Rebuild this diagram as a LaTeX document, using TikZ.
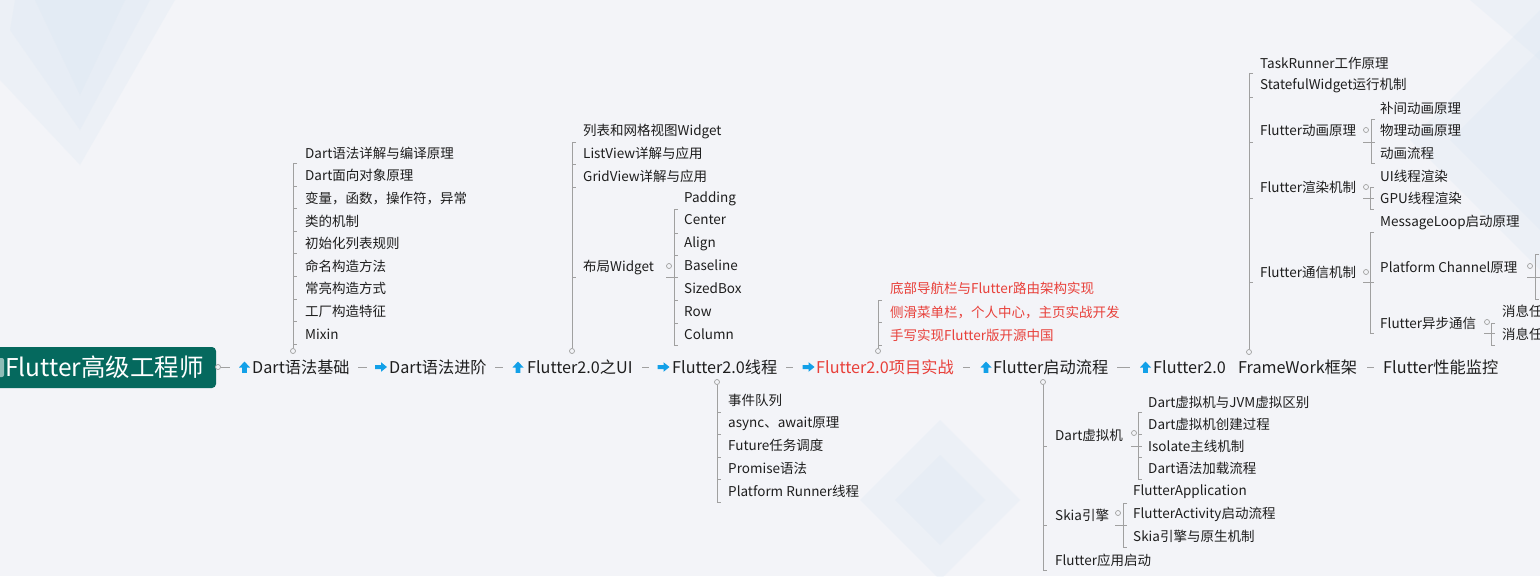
\documentclass[tikz,border=0pt]{standalone}
\usepackage{fontspec}
\setmainfont{Noto Sans CJK SC}
\definecolor{bgc}{HTML}{F3F4F8}
\definecolor{lnc}{HTML}{A0A0A0}
\definecolor{icc}{HTML}{12A0E8}
\definecolor{redc}{HTML}{E8403A}
\definecolor{rootc}{HTML}{05695E}
\definecolor{rootlt}{HTML}{8FBDB8}
\definecolor{txtc}{HTML}{1E1E1E}
\definecolor{decoc}{HTML}{D6E5F2}
\tikzset{
 ln/.style={draw=lnc, line width=0.85pt},
 dot/.style={circle, draw=lnc, fill=bgc, inner sep=0pt, minimum size=5pt, line width=0.7pt},
 sub/.style={anchor=west, inner sep=0pt, text=txtc, font=\fontsize{13.5}{16}\selectfont, text height=11.9pt, text depth=1.6pt},
 subred/.style={sub, text=redc},
 main/.style={anchor=west, inner sep=0pt, text=txtc, font=\fontsize{16.2}{19}\selectfont, text height=14pt, text depth=2pt},
 roottxt/.style={anchor=west, inner sep=0pt, text=white, font=\fontsize{24.5}{28}\selectfont, text height=21pt, text depth=3pt},
 deco/.style={fill=decoc, opacity=0.22},
 uparr/.pic={\fill[icc] (-5.5,0.5) -- (0,-5.5) -- (5.5,0.5) -- (2.3,0.5) -- (2.3,5.8) -- (-2.3,5.8) -- (-2.3,0.5) -- cycle;},
 rarr/.pic={\fill[icc] (-6,-2) -- (0,-2) -- (0,-4.8) -- (6,0) -- (0,4.8) -- (0,2) -- (-6,2) -- cycle;},
}
\begin{document}
\begin{tikzpicture}[x=1pt,y=-1pt]
\useasboundingbox (0,0) rectangle (1540,576);
\clip (0,0) rectangle (1540,576);
\fill[bgc] (0,0) rectangle (1540,576);
% background decoration (faint diamonds)
\fill[deco] (0,0) -- (175,0) -- (80,165) -- (0,80) -- cycle;
\fill[deco] (15,0) -- (150,0) -- (80,130) -- (10,30) -- cycle;
\fill[deco] (35,0) -- (125,0) -- (80,95) -- cycle;
\fill[deco] (1410,140) -- (1540,10) -- (1670,140) -- (1540,270) -- cycle;
\fill[deco] (1450,140) -- (1540,50) -- (1630,140) -- (1540,230) -- cycle;
\fill[deco] (1470,0) -- (1540,0) -- (1540,60) -- cycle;
\fill[deco] (860,500) -- (940,420) -- (1020,500) -- (940,580) -- cycle;
\fill[deco] (895,500) -- (940,455) -- (985,500) -- (940,545) -- cycle;

% root
\fill[rootc, rounded corners=4pt] (-10,347) rectangle (216,388);
\fill[rootlt, rounded corners=2pt] (-6,358) rectangle (4,377);
\node[roottxt] (root) at (5,367.5) {Flutter高级工程师};
\node[dot] (c0) at (218,367) {};
\draw[ln] (c0.east) -- (230,367);

% main row
\pic at (244.5,367) {uparr};
\node[main] (m1) at (252,367) {Dart语法基础};
\draw[ln] (358,367) -- (367,367);
\pic at (381,367) {rarr};
\node[main] (m2) at (389,367) {Dart语法进阶};
\draw[ln] (495,367) -- (503,367);
\pic at (518,367) {uparr};
\node[main] (m3) at (527,367) {Flutter2.0之UI};
\draw[ln] (642,367) -- (649,367);
\pic at (663.5,367) {rarr};
\node[main] (m4) at (672,367) {Flutter2.0线程};
\draw[ln] (786,367) -- (793,367);
\pic at (808.5,367) {rarr};
\node[main,text=redc] (m5) at (816,367) {Flutter2.0项目实战};
\draw[ln] (963,367) -- (970,367);
\pic at (986,367) {uparr};
\node[main] (m6) at (993,367) {Flutter启动流程};
\draw[ln] (1117,367) -- (1130,367);
\pic at (1145.5,367) {uparr};
\node[main] (m7) at (1153,367) {Flutter2.0\hspace{0.75em}FrameWork框架};
\draw[ln] (1367,367) -- (1374,367);
\node[main] (m8) at (1383,367) {Flutter性能监控};

% Dart语法基础 branch
\node[dot] (b1) at (293,351) {};
\draw[ln] (297,163) -- (293,163) -- (b1.north);
\foreach \y in {186,208,231,253,276,299,321,344} \draw[ln] (293,\y) -- (297,\y);
\foreach \t [count=\i from 0] in {Dart语法详解与编译原理,Dart面向对象原理,变量，函数，操作符，异常,类的机制,初始化列表规则,命名构造方法,常亮构造方式,工厂构造特征,Mixin}
  \node[sub] (s1-\i) at (305,{153+\i*22.625}) {\t};

% Flutter2.0之UI branch
\node[dot] (b2) at (572,351) {};
\draw[ln] (576,142) -- (572,142) -- (b2.north);
\foreach \y in {164,187,277} \draw[ln] (572,\y) -- (576,\y);
\node[sub] (s2-0) at (583,130) {列表和网格视图Widget};
\node[sub] (s2-1) at (583,153) {ListView详解与应用};
\node[sub] (s2-2) at (583,176) {GridView详解与应用};
\node[sub] (s2-3) at (583,266) {布局Widget};
\node[dot] (b2a) at (669,266) {};
\draw[ln] (666,277) -- (678,277);
\draw[ln] (678,209) -- (674,209) -- (674,345) -- (678,345);
\foreach \y in {233,255,300,323} \draw[ln] (674,\y) -- (678,\y);
\foreach \t [count=\i from 0] in {Padding,Center,Align,Baseline,SizedBox,Row,Column}
  \node[sub] (s2a-\i) at (684,{197+\i*22.83}) {\t};

% Flutter2.0线程 branch
\node[dot] (b3) at (717,382) {};
\draw[ln] (b3.south) -- (717,502) -- (721,502);
\foreach \y in {412,434,457,479} \draw[ln] (717,\y) -- (721,\y);
\foreach \t [count=\i from 0] in {事件队列,async、await原理,Future任务调度,Promise语法,Platform Runner线程}
  \node[sub] (s3-\i) at (728,{400+\i*22.75}) {\t};

% Flutter2.0项目实战 branch
\node[dot] (b4) at (878,351) {};
\draw[ln] (882,300) -- (878,300) -- (b4.north);
\foreach \y in {322,345} \draw[ln] (878,\y) -- (882,\y);
\node[subred] (s4-0) at (890,288) {底部导航栏与Flutter路由架构实现};
\node[subred] (s4-1) at (890,312) {侧滑菜单栏，个人中心，主页实战开发};
\node[subred] (s4-2) at (890,335) {手写实现Flutter版开源中国};

% Flutter启动流程 branch
\node[dot] (b5) at (1043,382) {};
\draw[ln] (b5.south) -- (1043,570) -- (1047,570);
\foreach \y in {446,525} \draw[ln] (1043,\y) -- (1047,\y);
\node[sub] (s5-0) at (1055,435) {Dart虚拟机};
\node[sub] (s5-1) at (1055,515) {Skia引擎};
\node[sub] (s5-2) at (1055,560) {Flutter应用启动};
\node[dot] (b5a) at (1134,433) {};
\draw[ln] (1131,446) -- (1142,446);
\draw[ln] (1142,412) -- (1138,412) -- (1138,479) -- (1142,479);
\foreach \y in {434,457} \draw[ln] (1138,\y) -- (1142,\y);
\foreach \t [count=\i from 0] in {Dart虚拟机与JVM虚拟区别,Dart虚拟机创建过程,Isolate主线机制,Dart语法加载流程}
  \node[sub] (s5a-\i) at (1148,{402+\i*22}) {\t};
\node[dot] (b5b) at (1118,513) {};
\draw[ln] (1115,525) -- (1127,525);
\draw[ln] (1127,503) -- (1123,503) -- (1123,547) -- (1127,547);
\node[sub] (s5b-0) at (1133,490) {FlutterApplication};
\node[sub] (s5b-1) at (1133,513) {FlutterActivity启动流程};
\node[sub] (s5b-2) at (1133,536) {Skia引擎与原生机制};

% FrameWork branch
\node[dot] (b6) at (1249,352) {};
\draw[ln] (1253,73) -- (1249,73) -- (b6.north);
\foreach \y in {97,142,198,282} \draw[ln] (1249,\y) -- (1253,\y);
\node[sub] (s6-0) at (1260,63) {TaskRunner工作原理};
\node[sub] (s6-1) at (1260,84) {StatefulWidget运行机制};
\node[sub] (s6-2) at (1260,130) {Flutter动画原理};
\node[sub] (s6-3) at (1260,187) {Flutter渲染机制};
\node[sub] (s6-4) at (1260,272) {Flutter通信机制};
% 动画
\node[dot] (b6a) at (1366,130) {};
\draw[ln] (1363,142) -- (1375,142);
\draw[ln] (1375,119) -- (1371,119) -- (1371,163) -- (1375,163);
\node[sub] (s6a-0) at (1380,108) {补间动画原理};
\node[sub] (s6a-1) at (1380,130) {物理动画原理};
\node[sub] (s6a-2) at (1380,153) {动画流程};
% 渲染
\node[dot] (b6b) at (1366,187) {};
\draw[ln] (1363,198) -- (1374,198);
\draw[ln] (1374,187) -- (1370,187) -- (1370,209) -- (1374,209);
\node[sub] (s6b-0) at (1380,176) {UI线程渲染};
\node[sub] (s6b-1) at (1380,198) {GPU线程渲染};
% 通信
\node[dot] (b6c) at (1366,272) {};
\draw[ln] (1363,282) -- (1374,282);
\draw[ln] (1374,232) -- (1370,232) -- (1370,333) -- (1374,333);
\node[sub] (s6c-0) at (1380,221) {MessageLoop启动原理};
\node[sub] (s6c-1) at (1380,267) {Platform Channel原理};
\node[sub] (s6c-2) at (1380,323) {Flutter异步通信};
% Platform Channel
\node[dot] (b6d) at (1530,266) {};
\draw[ln] (1527,277) -- (1540,277);
\draw[ln] (1539,254) -- (1535,254) -- (1535,299) -- (1539,299);
% 异步通信
\node[dot] (b6e) at (1487,322) {};
\draw[ln] (1484,333) -- (1495,333);
\draw[ln] (1495,323) -- (1491,323) -- (1491,345) -- (1495,345);
\node[sub] (s6e-0) at (1502,311) {消息任};
\node[sub] (s6e-1) at (1502,334) {消息任};
\end{tikzpicture}
\end{document}
